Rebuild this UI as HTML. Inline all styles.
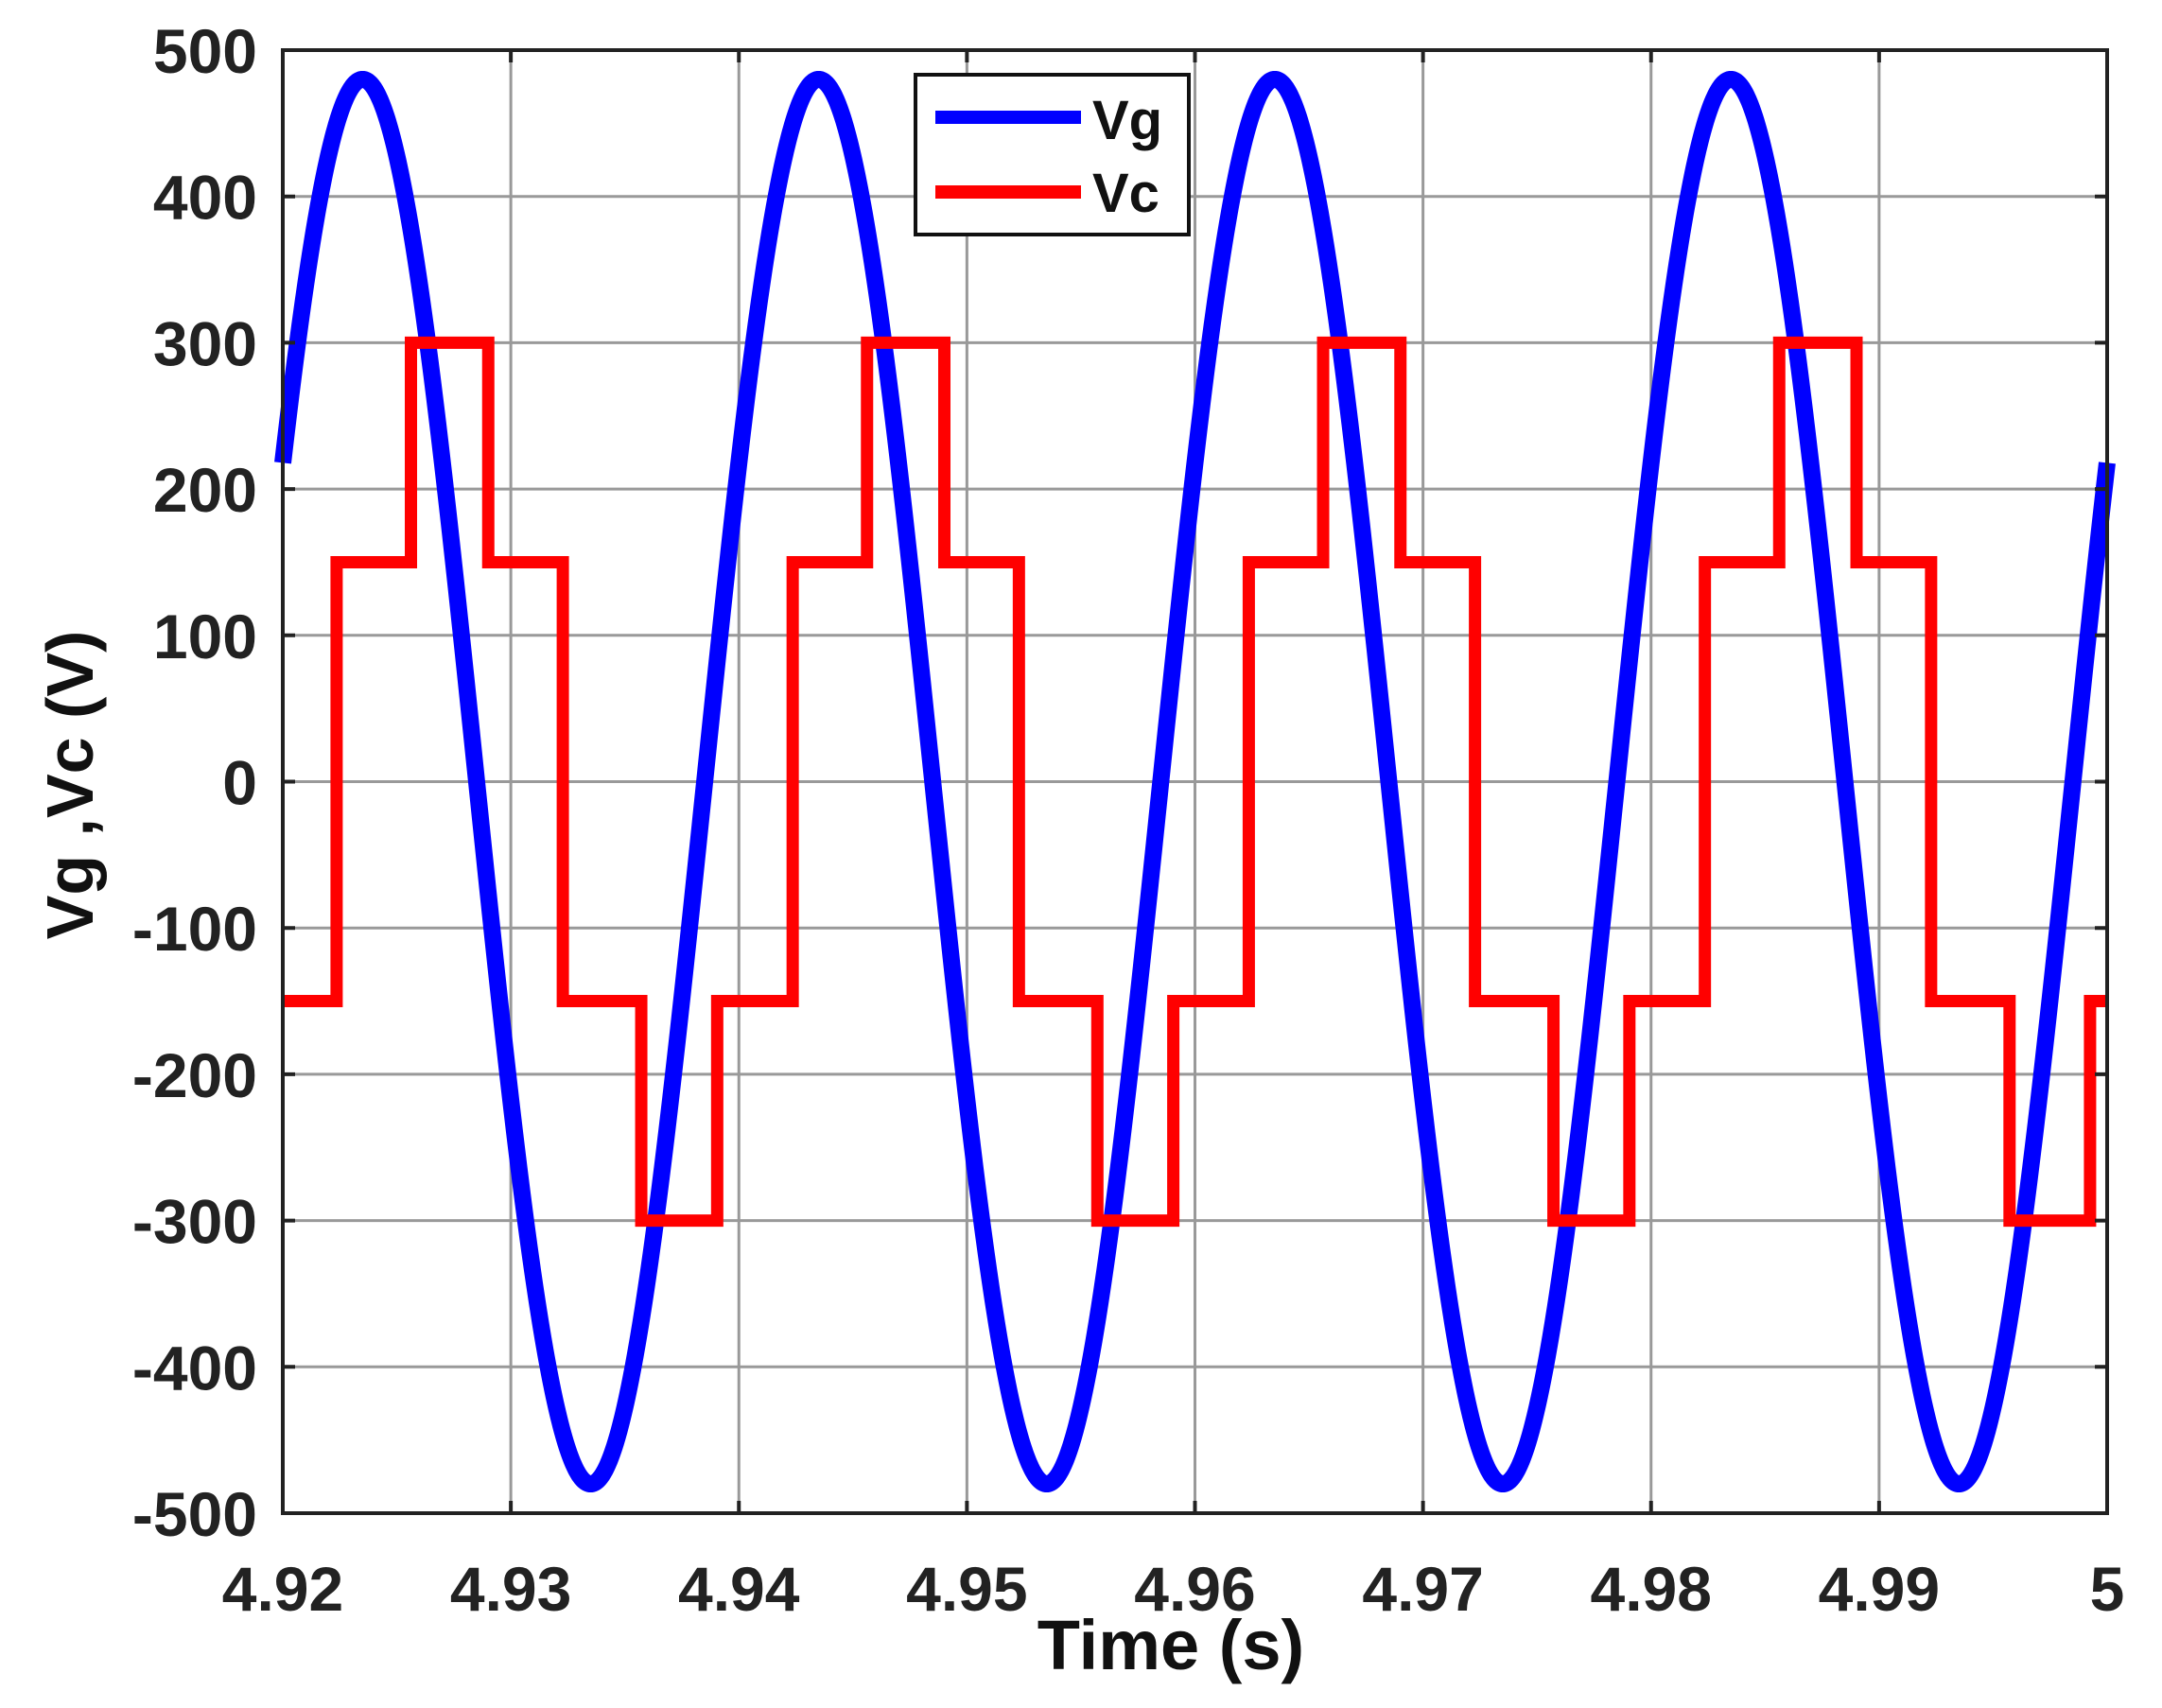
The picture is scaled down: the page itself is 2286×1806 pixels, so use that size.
<!DOCTYPE html>
<html><head><meta charset="utf-8"><style>
html,body{margin:0;padding:0;background:#fff;}
svg{display:block;font-family:"Liberation Sans",Arial,sans-serif;font-weight:bold;}
</style></head><body>
<svg id="chart" width="2286" height="1806" viewBox="0 0 2286 1806" xmlns="http://www.w3.org/2000/svg">
<g id="grid"></g>
<g id="series"></g>
<rect x="299" y="53" width="1929" height="1547" fill="none" stroke="#222" stroke-width="4"/>
<g id="ticks"></g>
<text x="1238" y="1765" font-size="74" text-anchor="middle" fill="#111">Time (s)</text>
<text x="0" y="0" font-size="70" text-anchor="middle" fill="#111" transform="translate(98,830) rotate(-90)">Vg ,Vc (V)</text>
<g>
<rect x="968" y="79" width="289" height="169" fill="#fff" stroke="#111" stroke-width="4"/>
<line x1="989" y1="124" x2="1143" y2="124" stroke="#0000ff" stroke-width="14"/>
<text x="1155" y="147" font-size="58" fill="#111">Vg</text>
<line x1="989" y1="203" x2="1143" y2="203" stroke="#ff0000" stroke-width="14"/>
<text x="1155" y="224" font-size="58" fill="#111">Vc</text>
</g>
</svg>
<script>
const xTicks = [4.92, 4.93, 4.94, 4.95, 4.96, 4.97, 4.98, 4.99, 5.00];
const xTickLabels = ["4.92","4.93","4.94","4.95","4.96","4.97","4.98","4.99","5"];
const yTicks = [-500,-400,-300,-200,-100,0,100,200,300,400,500];
const yTickLabels = ["-500","-400","-300","-200","-100","0","100","200","300","400","500"];
const vgAmplitude = [480];
const vgFrequencyHz = [50];
const vgZeroCrossTime = [4.9185];
const vcStepTimes = [4.92, 4.92236, 4.92562, 4.92901, 4.93228, 4.93572, 4.93905,
  4.94236, 4.94562, 4.94901, 4.95228, 4.95572, 4.95905,
  4.96236, 4.96562, 4.96901, 4.97228, 4.97572, 4.97905,
  4.98236, 4.98562, 4.98901, 4.99228, 4.99572, 4.99925];
const vcStepLevels = [-150, 150, 300, 150, -150, -300, -150,
  150, 300, 150, -150, -300, -150,
  150, 300, 150, -150, -300, -150,
  150, 300, 150, -150, -300, -150];

const L=299,T=53,R=2228,B=1600;
const xMin=4.92,xMax=5.0,yMin=-500,yMax=500;
const sx=t=>L+(t-xMin)/(xMax-xMin)*(R-L);
const sy=v=>B-(v-yMin)/(yMax-yMin)*(B-T);
const NS="http://www.w3.org/2000/svg";
function mk(tag,attrs,parent){const e=document.createElementNS(NS,tag);for(const k in attrs)e.setAttribute(k,attrs[k]);parent.appendChild(e);return e;}
const grid=document.getElementById('grid'),ticks=document.getElementById('ticks'),series=document.getElementById('series');
xTicks.forEach((t,i)=>{
  const x=sx(t);
  const g=mk('line',{x1:x,y1:T,x2:x,y2:B,stroke:'#999','stroke-width':3},grid);
  
  
  const tk=mk('path',{d:`M${x},${B}V${B-13}M${x},${T}V${T+13}`,stroke:'#222','stroke-width':4},ticks);
  
  
  const lb=mk('text',{x:x,y:1703,'font-size':66,'text-anchor':'middle',fill:'#222'},ticks);
  lb.textContent=xTickLabels[i];
  
  
});
yTicks.forEach((v,i)=>{
  const y=sy(v);
  const g=mk('line',{x1:L,y1:y,x2:R,y2:y,stroke:'#999','stroke-width':3},grid);
  
  
  const tk=mk('path',{d:`M${L},${y}H${L+13}M${R},${y}H${R-13}`,stroke:'#222','stroke-width':4},ticks);
  
  
  const lb=mk('text',{x:272,y:y+24,'font-size':66,'text-anchor':'end',fill:'#222'},ticks);
  lb.textContent=yTickLabels[i];
  
  
});
let d='';
for(let k=0;k<=1600;k++){
  const t=xMin+(xMax-xMin)*k/1600;
  const v=vgAmplitude[0]*Math.sin(2*Math.PI*vgFrequencyHz[0]*(t-vgZeroCrossTime[0]));
  d+=(k?'L':'M')+sx(t).toFixed(2)+','+sy(v).toFixed(2);
}
const vg=mk('path',{d:d,fill:'none',stroke:'#0000ff','stroke-width':18,'stroke-linejoin':'round'},series);


let d2='';
for(let i=0;i<vcStepTimes.length;i++){
  const x=sx(vcStepTimes[i]),y=sy(vcStepLevels[i]);
  d2+= i===0?`M${x},${y}`:`H${x}V${y}`;
}
d2+=`H${sx(xMax)}`;
const vc=mk('path',{d:d2,fill:'none',stroke:'#ff0000','stroke-width':13,'stroke-linejoin':'miter'},series);


</script>
</body></html>
